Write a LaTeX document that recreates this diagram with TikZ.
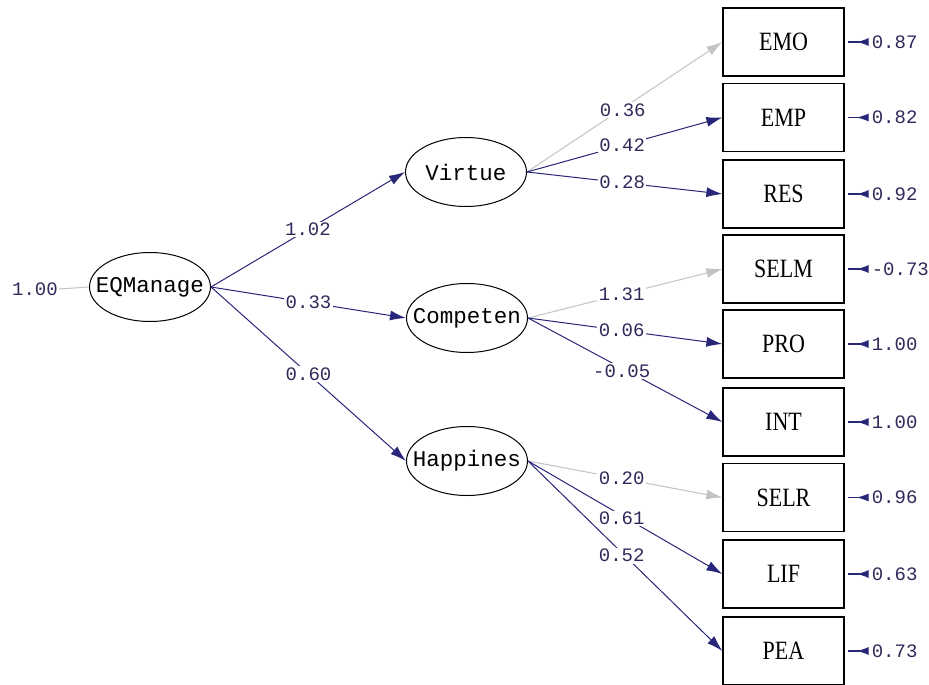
\documentclass[tikz,border=0pt]{standalone}
\usepackage{fontspec}
\usepackage{graphicx}
\setmainfont{Liberation Serif}
\newfontfamily\monof{Liberation Mono}
\usetikzlibrary{shapes.geometric,arrows.meta}
\definecolor{pathblue}{RGB}{40,38,120}
\definecolor{pathgray}{RGB}{195,195,195}
\definecolor{numcol}{RGB}{50,40,90}
\newcommand\bxt[1]{\scalebox{1}[1.2]{#1}}
\newcommand\lvt[1]{\makebox[0pt]{#1}}
\begin{document}
\begin{tikzpicture}[x=1pt,y=-1pt,
  latent/.style={ellipse,draw,line width=1pt,minimum width=121pt,minimum height=69pt,inner sep=0pt,font=\monof\fontsize{22.5}{24}\selectfont},
  obs/.style={rectangle,draw,line width=1.2pt,minimum width=121pt,minimum height=68pt,inner sep=0pt,font=\fontsize{22}{24}\selectfont},
  pth/.style={draw=pathblue,line width=1pt,-{Latex[length=16pt,width=10pt]}},
  grayp/.style={pth,draw=pathgray},
  lab/.style={fill=white,inner sep=1.5pt,text=numcol,font=\monof\fontsize{19}{20}\selectfont},
  errl/.style={draw=pathblue,line width=1.2pt,-{Latex[reversed,length=12pt,width=8pt]}},
  errlab/.style={anchor=west,inner sep=0pt,text=numcol,font=\monof\fontsize{19}{20}\selectfont}]
\useasboundingbox[fill=white] (0,0) rectangle (929,685);

% latent variables
\node[latent] (EQ) at (150,287) {\lvt{EQManage}};
\node[latent] (VIR) at (466,172) {\lvt{Virtue}};
\node[latent] (COM) at (467,318) {\lvt{Competen}};
\node[latent] (HAP) at (467,461) {\lvt{Happines}};

% observed variables
\foreach \n/\t/\yy in {EMO/EMO/42, EMP/EMP/117.5, RES/RES/194, SELM/SELM/269, PRO/PRO/344, INT/INT/422, SELR/SELR/497.5, LIF/LIF/574, PEA/PEA/651}{
  \node[obs] (\n) at (783.5,\yy) {\bxt{\t}};
}

% EQManage variance
\node[text=numcol,font=\monof\fontsize{19}{20}\selectfont,inner sep=1pt] (v1) at (35,289) {1.00};
\draw[draw=pathgray,line width=1pt] (v1.east) -- (EQ.west);

% second order paths
\draw[pth] (EQ.east) -- node[lab,pos=0.5] {1.02} (VIR.west);
\draw[pth] (EQ.east) -- node[lab,pos=0.5] {0.33} (COM.west);
\draw[pth] (EQ.east) -- node[lab,pos=0.5] {0.60} (HAP.west);

% first order paths
\draw[grayp] (VIR.east) -- node[lab,pos=0.49,yshift=-2pt] {0.36} (EMO.west);
\draw[pth] (VIR.east) -- node[lab,pos=0.487] {0.42} (EMP.west);
\draw[pth] (VIR.east) -- node[lab,pos=0.487] {0.28} (RES.west);

\draw[grayp] (COM.east) -- node[lab,pos=0.482] {1.31} (SELM.west);
\draw[pth] (COM.east) -- node[lab,pos=0.482] {0.06} (PRO.west);
\draw[pth] (COM.east) -- node[lab,pos=0.482,yshift=-3pt] {-0.05} (INT.west);

\draw[grayp] (HAP.east) -- node[lab,pos=0.482] {0.20} (SELR.west);
\draw[pth] (HAP.east) -- node[lab,pos=0.482,yshift=-3pt] {0.61} (LIF.west);
\draw[pth] (HAP.east) -- node[lab,pos=0.482,yshift=-3pt] {0.52} (PEA.west);

% error terms
\foreach \n/\v in {EMO/0.87, EMP/0.82, RES/0.92, SELM/-0.73, PRO/1.00, INT/1.00, SELR/0.96, LIF/0.63, PEA/0.73}{
  \coordinate (e\n) at ([xshift=24pt]\n.east);
  \draw[errl] ([xshift=3pt]\n.east) -- (e\n);
  \node[errlab] (l\n) at ([xshift=3pt]e\n) {\v};
}
\end{tikzpicture}
\end{document}
